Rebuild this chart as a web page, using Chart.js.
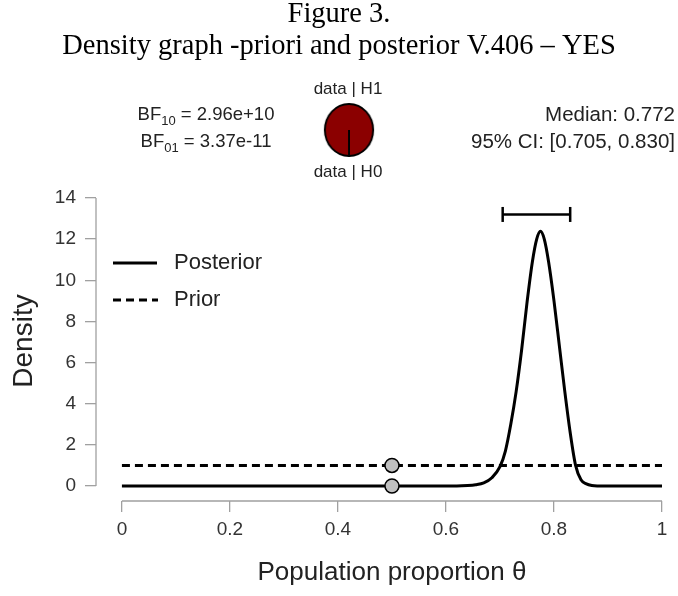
<!DOCTYPE html>
<html>
<head>
<meta charset="utf-8">
<script src="https://cdn.jsdelivr.net/npm/chart.js@4.4.0/dist/chart.umd.min.js"></script>
<style>
  html, body { margin: 0; padding: 0; background: #fff; }
  #wrap { position: relative; width: 678px; height: 596px; }
  #pieBox { position: absolute; left: 322px; top: 103px; width: 54px; height: 54px; transform: scaleX(0.93); }
</style>
</head>
<body>
<div id="wrap">
  <canvas id="densityChart" width="678" height="596"></canvas>
  <div id="pieBox"><canvas id="pieChart"></canvas></div>
</div>
<script>
// ---------- Data ----------
const thetaGrid = [0, 0.62, 0.64, 0.655, 0.67, 0.685, 0.70, 0.71, 0.72, 0.73, 0.74, 0.75, 0.76, 0.768,
  0.775, 0.782, 0.79, 0.80, 0.81, 0.82, 0.83, 0.84, 0.85, 0.86, 0.87, 0.88, 1];
const posteriorDensity = [0, 0, 0.02, 0.06, 0.15, 0.4, 0.94, 1.7, 3.0, 4.6, 6.6, 8.9, 10.9, 12.0,
  12.38, 12.0, 10.9, 9.0, 6.8, 4.6, 2.6, 1.0, 0.3, 0.1, 0.02, 0, 0];
const priorTheta = [0, 1];
const priorDensity = [1, 1];
const ciBounds = [0.705, 0.830];
const ciLevel = 13.2;
const nullTheta = 0.5;
const nullDensity = [1, 0]; // prior, posterior at theta = 0.5
const xTicks = [0, 0.2, 0.4, 0.6, 0.8, 1];
const yTicks = [0, 2, 4, 6, 8, 10, 12, 14];
const pieLabels = ["data | H1", "data | H0"];
const pieShares = [1, 3.37e-11];
const bf10 = "2.96e+10";
const bf01 = "3.37e-11";
const medianText = "Median: 0.772";
const ciText = "95% CI: [0.705, 0.830]";

const SANS = "'Liberation Sans', Arial, sans-serif";
const SERIF = "'Liberation Serif', 'Times New Roman', serif";
Chart.defaults.font.family = SANS;
Chart.defaults.color = "#333";

const toPoints = (xs, ys) => xs.map((x, i) => ({ x: x, y: ys[i] }));

// ---------- Extra drawing: axes lines, titles, legend, header ----------
function drawBF(ctx, cx, y, sub, val) {
  const big = "18.5px " + SANS, small = "13px " + SANS;
  ctx.font = big;
  const w1 = ctx.measureText("BF").width;
  const w3 = ctx.measureText(" = " + val).width;
  ctx.font = small;
  const w2 = ctx.measureText(sub).width;
  let x = cx - (w1 + w2 + w3) / 2;
  ctx.textAlign = "left";
  ctx.font = big; ctx.fillText("BF", x, y); x += w1;
  ctx.font = small; ctx.fillText(sub, x, y + 6); x += w2;
  ctx.font = big; ctx.fillText(" = " + val, x, y);
}

const extrasPlugin = {
  id: "extras",
  afterDraw(chart) {
    const ctx = chart.ctx;
    const xs = chart.scales.x, ys = chart.scales.y;
    const area = chart.chartArea;
    const x0 = xs.getPixelForValue(xTicks[0]);
    const x1 = xs.getPixelForValue(xTicks[xTicks.length - 1]);
    ctx.save();

    // R-style axis lines spanning first to last tick
    ctx.strokeStyle = "#a0a0a0";
    ctx.lineWidth = 1.3;
    ctx.beginPath();
    ctx.moveTo(x0, area.bottom);
    ctx.lineTo(x1, area.bottom);
    ctx.moveTo(area.left, ys.getPixelForValue(yTicks[0]));
    ctx.lineTo(area.left, ys.getPixelForValue(yTicks[yTicks.length - 1]));
    ctx.stroke();

    // axis titles
    ctx.fillStyle = "#222";
    ctx.textAlign = "center";
    ctx.textBaseline = "middle";
    ctx.font = "26px " + SANS;
    ctx.fillText("Population proportion \u03b8", (x0 + x1) / 2, 573);
    ctx.save();
    ctx.translate(24, 341);
    ctx.rotate(-Math.PI / 2);
    ctx.font = "28px " + SANS;
    ctx.fillText("Density", 0, 0);
    ctx.restore();

    // legend
    ctx.strokeStyle = "#000";
    ctx.lineWidth = 3;
    ctx.beginPath();
    ctx.moveTo(113, 263); ctx.lineTo(157, 263);
    ctx.stroke();
    ctx.setLineDash([8, 5]);
    ctx.beginPath();
    ctx.moveTo(113, 300); ctx.lineTo(158, 300);
    ctx.stroke();
    ctx.setLineDash([]);
    ctx.fillStyle = "#222";
    ctx.font = "22px " + SANS;
    ctx.textAlign = "left";
    ctx.fillText("Posterior", 174, 263);
    ctx.fillText("Prior", 174, 300);

    // header titles
    ctx.fillStyle = "#000";
    ctx.textAlign = "center";
    ctx.font = "28.5px " + SERIF;
    ctx.fillText("Figure 3.", 339, 15);
    ctx.fillText("Density graph -priori and posterior V.406 \u2013 YES", 339, 47);

    // pie labels
    ctx.fillStyle = "#222";
    ctx.font = "17px " + SANS;
    ctx.fillText(pieLabels[0], 348, 89);
    ctx.fillText(pieLabels[1], 348, 172);

    // Bayes factors
    drawBF(ctx, 206, 115, "10", bf10);
    drawBF(ctx, 206, 142, "01", bf01);

    // median and CI
    ctx.textAlign = "right";
    ctx.font = "20.5px " + SANS;
    ctx.fillText(medianText, 675, 115);
    ctx.fillText(ciText, 675, 142);
    ctx.restore();
  }
};

// ---------- Density chart ----------
new Chart(document.getElementById("densityChart"), {
  type: "line",
  data: {
    datasets: [
      {
        label: "Null",
        data: nullDensity.map(v => ({ x: nullTheta, y: v })),
        showLine: false,
        pointRadius: 7,
        pointBackgroundColor: "#c0c0c0",
        pointBorderColor: "#000",
        pointBorderWidth: 1.5,
      },
      {
        label: "CI",
        data: ciBounds.map(v => ({ x: v, y: ciLevel })),
        borderColor: "#000",
        borderWidth: 2.5,
        pointStyle: "line",
        rotation: 90,
        pointRadius: 7.5,
        pointBorderColor: "#000",
        pointBorderWidth: 2.5,
      },
      {
        label: "Posterior",
        data: toPoints(thetaGrid, posteriorDensity),
        borderColor: "#000",
        borderWidth: 3,
        pointRadius: 0,
        cubicInterpolationMode: "monotone",
      },
      {
        label: "Prior",
        data: toPoints(priorTheta, priorDensity),
        borderColor: "#000",
        borderWidth: 3,
        borderDash: [8, 5],
        pointRadius: 0,
      },
    ],
  },
  options: {
    responsive: false,
    animation: false,
    events: [],
    layout: { padding: { top: 198, right: 16, left: 0, bottom: 0 } },
    plugins: {
      legend: { display: false },
      tooltip: { enabled: false },
    },
    scales: {
      x: {
        type: "linear",
        min: -0.048,
        max: 1,
        afterBuildTicks: (scale) => { scale.ticks = xTicks.map(v => ({ value: v })); },
        afterFit: (scale) => { scale.height = 95; },
        grid: { drawOnChartArea: false, drawTicks: true, tickLength: 11, color: "#a0a0a0", lineWidth: 1.3 },
        border: { display: false },
        ticks: { font: { size: 19 }, color: "#333", padding: 6, maxRotation: 0, callback: (v) => String(v) },
      },
      y: {
        type: "linear",
        min: -0.73,
        max: 14,
        afterBuildTicks: (scale) => { scale.ticks = yTicks.map(v => ({ value: v })); },
        afterFit: (scale) => { scale.width = 96; },
        grid: { drawOnChartArea: false, drawTicks: true, tickLength: 11, color: "#a0a0a0", lineWidth: 1.3 },
        border: { display: false },
        ticks: { font: { size: 19 }, color: "#333", padding: 9, callback: (v) => String(v) },
      },
    },
  },
  plugins: [extrasPlugin],
});

// ---------- Pie of data | H1 vs data | H0 ----------
new Chart(document.getElementById("pieChart"), {
  type: "pie",
  data: {
    labels: pieLabels,
    datasets: [
      {
        data: pieShares,
        backgroundColor: ["#8b0000", "#ffffff"],
        borderColor: "#000",
        borderWidth: 2,
      },
    ],
  },
  options: {
    responsive: true,
    maintainAspectRatio: false,
    animation: false,
    events: [],
    rotation: 180,
    plugins: {
      legend: { display: false },
      tooltip: { enabled: false },
    },
  },
});
</script>
</body>
</html>
